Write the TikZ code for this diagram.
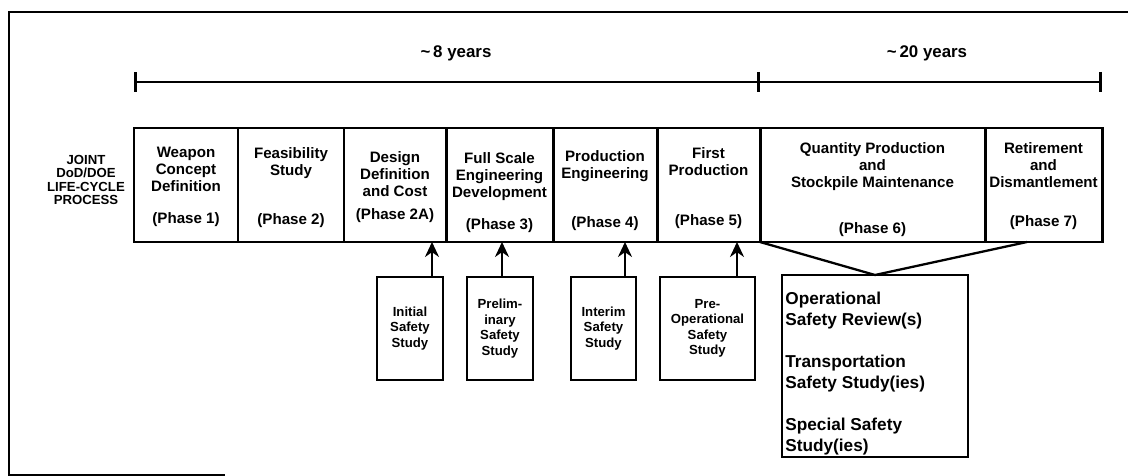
\documentclass[tikz,border=0pt]{standalone}
\usepackage{fontspec}
\setmainfont{Liberation Sans}
\usetikzlibrary{arrows.meta,positioning}

\begin{document}
\begin{tikzpicture}[x=0.2mm,y=-0.2mm,
    phase/.style={draw,line width=1.7pt,anchor=north west,minimum height=22.8mm,inner sep=0pt,outer sep=0pt},
    title/.style={font=\fontsize{8.6}{9.7}\selectfont\bfseries,align=center,inner sep=0pt,anchor=north},
    phasenum/.style={font=\fontsize{8.6}{9.7}\selectfont\bfseries,inner sep=0pt,anchor=base},
    safety/.style={draw,line width=1.3pt,anchor=north west,minimum height=20.6mm,inner sep=0pt,outer sep=0pt,align=center,font=\fontsize{7.5}{8.8}\selectfont\bfseries},
    feed/.style={line width=1.4pt,-{Stealth[length=3mm,width=2.8mm]}},
    span/.style={line width=1.5pt,{Bar[width=4mm]}-{Bar[width=4mm]}},
    years/.style={font=\fontsize{9.6}{11}\selectfont\bfseries,inner sep=0pt,anchor=base}]
    \useasboundingbox (0,0) rectangle (1128,476);
    \draw[line width=1.4pt] (1128,12) -- (9,12) -- (9,475) -- (225,475); % frame

    % time spans
    \coordinate (s0) at (134,82);
    \coordinate (s1) at (760,82);
    \coordinate (s2) at (1102,82);
    \draw[span] (s0) -- (s1); % design phases
    \draw[line width=1.5pt,-{Bar[width=4mm]}] (s1) -- (s2); % stockpile phases
    \node[years] (y8) at (456,58) {\textasciitilde\,8 years};
    \node[years] (y20) at (927,58) {\textasciitilde\,20 years};

    \node[font=\fontsize{7.5}{7.6}\selectfont\bfseries,align=center,inner sep=0pt,anchor=north] (joint) at (86,155) {JOINT\\DoD/DOE\\LIFE-CYCLE\\PROCESS};

    % phase row
    \node[phase,minimum width=20.8mm] (p1) at (134,128) {};
    \node[phase,minimum width=21.2mm,right=0mm of p1] (p2) {};
    \node[phase,minimum width=20.4mm,right=0mm of p2] (p2a) {};
    \node[phase,minimum width=21.4mm,right=0mm of p2a] (p3) {};
    \node[phase,minimum width=20.8mm,right=0mm of p3] (p4) {};
    \node[phase,minimum width=20.6mm,right=0mm of p4] (p5) {};
    \node[phase,minimum width=45mm,right=0mm of p5] (p6) {};
    \node[phase,minimum width=23.4mm,right=0mm of p6] (p7) {};

    \node[title,below=3.8mm of p1.north] (t1) {Weapon\\Concept\\Definition};
    \node[title,below=3.8mm of p2.north] (t2) {Feasibility\\Study};
    \node[title,below=4.6mm of p2a.north] (t2a) {Design\\Definition\\and Cost};
    \node[title,below=4.8mm of p3.north] (t3) {Full Scale\\Engineering\\Development};
    \node[title,below=4.4mm of p4.north] (t4) {Production\\Engineering};
    \node[title,below=3.8mm of p5.north] (t5) {First\\Production};
    \node[title,below=2.8mm of p6.north] (t6) {Quantity Production\\and\\Stockpile Maintenance};
    \node[title,below=2.8mm of p7.north] (t7) {Retirement\\and\\Dismantlement};

    \node[phasenum] (l1) at ([yshift=3.6mm]p1.south) {(Phase 1)};
    \node[phasenum] (l2) at ([yshift=3.4mm]p2.south) {(Phase 2)};
    \node[phasenum] (l2a) at ([yshift=4.4mm]p2a.south) {(Phase 2A)};
    \node[phasenum] (l3) at ([yshift=2.4mm]p3.south) {(Phase 3)};
    \node[phasenum] (l4) at ([yshift=2.8mm]p4.south) {(Phase 4)};
    \node[phasenum] (l5) at ([yshift=3.2mm]p5.south) {(Phase 5)};
    \node[phasenum] (l6) at ([yshift=1.6mm]p6.south) {(Phase 6)};
    \node[phasenum] (l7) at ([yshift=3.0mm]p7.south) {(Phase 7)};

    % safety studies
    \node[safety,minimum width=13.2mm] (ini) at (377,277) {Initial\\Safety\\Study};
    \node[safety,minimum width=13.2mm] (pre) at (467,277) {Prelim-\\inary\\Safety\\Study};
    \node[safety,minimum width=13mm] (itm) at (571,277) {Interim\\Safety\\Study};
    \node[safety,minimum width=19mm] (pop) at (660,277) {Pre-\\Operational\\Safety\\Study};

    \draw[feed] ([xshift=4.4mm]ini.north) -- ([xshift=4.4mm]ini.north |- p2a.south);
    \draw[feed] ([xshift=0.4mm]pre.north) -- ([xshift=0.4mm]pre.north |- p3.south);
    \draw[feed] ([xshift=4.3mm]itm.north) -- ([xshift=4.3mm]itm.north |- p4.south);
    \draw[feed] ([xshift=5.9mm]pop.north) -- ([xshift=5.9mm]pop.north |- p5.south);

    % stockpile studies
    \node[draw,line width=1.3pt,anchor=north west,minimum width=37.2mm,minimum height=36.4mm,outer sep=0pt] (ops) at (782,275) {};
    \node[anchor=north west,inner sep=0pt,align=left,font=\fontsize{9.8}{11.9}\selectfont\bfseries] (opsnote) at ([xshift=0.6mm,yshift=-3.4mm]ops.north west)
        {Operational\\Safety Review(s)\\[11.9pt]Transportation\\Safety Study(ies)\\[11.9pt]Special Safety\\Study(ies)};
    \draw[line width=1.3pt] (p6.south west) -- (ops.north) -- ([xshift=-3.3mm]p7.south); % funnel
\end{tikzpicture}
\end{document}
